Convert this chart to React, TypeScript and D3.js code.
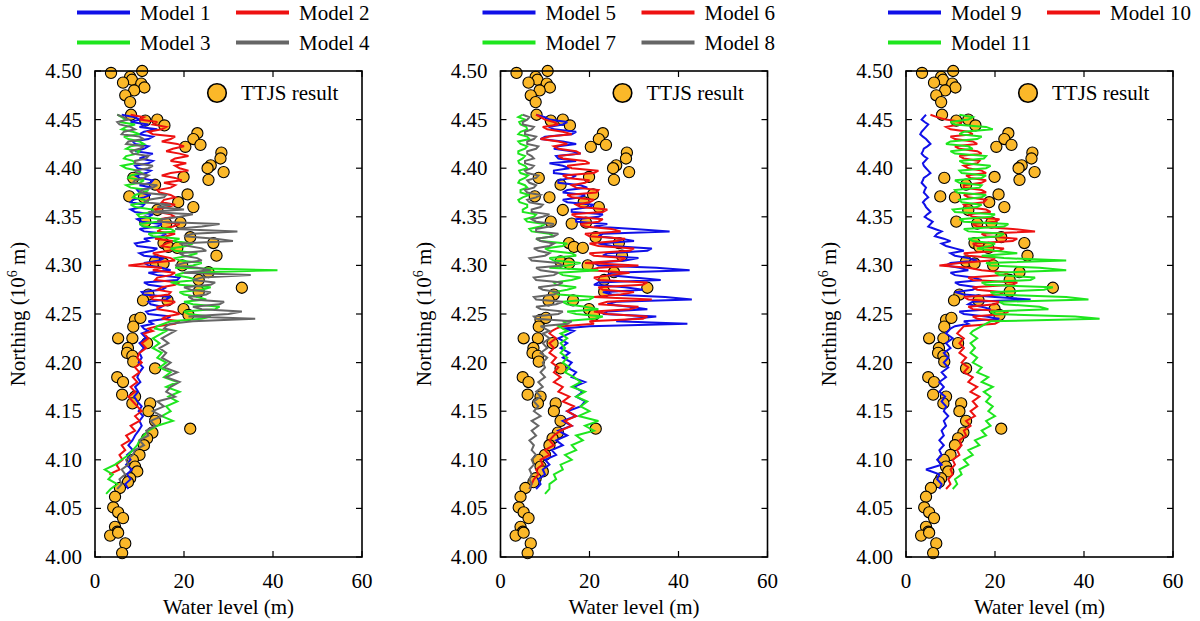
import React from "react";
import * as d3 from "d3";

// Northing grid (10^6 m): fine spacing in the noisy upper reach, coarser below
const NORTHING = [
  4.455, 4.4525, 4.45, 4.4475, 4.445, 4.4425, 4.44, 4.4375, 4.435, 4.4325,
  4.43, 4.4275, 4.425, 4.4225, 4.42, 4.4175, 4.415, 4.4125, 4.41, 4.4075,
  4.405, 4.4025, 4.4, 4.3975, 4.395, 4.3925, 4.39, 4.3875, 4.385, 4.3825,
  4.38, 4.3775, 4.375, 4.3725, 4.37, 4.3675, 4.365, 4.3625, 4.36, 4.3575,
  4.355, 4.3525, 4.35, 4.3475, 4.345, 4.3425, 4.34, 4.3375, 4.335, 4.3325,
  4.33, 4.3275, 4.325, 4.3225, 4.32, 4.3175, 4.315, 4.3125, 4.31, 4.3075,
  4.305, 4.3025, 4.3, 4.2975, 4.295, 4.2925, 4.29, 4.2875, 4.285, 4.2825,
  4.28, 4.2775, 4.275, 4.2725, 4.27, 4.2675, 4.265, 4.2625, 4.26, 4.2575,
  4.255, 4.2525, 4.25, 4.2475, 4.245, 4.2425, 4.24, 4.2375, 4.235, 4.2325,
  4.23,
  4.225, 4.22, 4.215, 4.21, 4.205, 4.2, 4.195, 4.19, 4.185, 4.18,
  4.175, 4.17, 4.165, 4.16, 4.155, 4.15, 4.145, 4.14, 4.135, 4.13,
  4.125, 4.12, 4.115, 4.11, 4.105, 4.1, 4.095, 4.09, 4.085, 4.08,
  4.075, 4.07, 4.065,
];

const MODEL_1 = [
  6, 9, 10, 8, 12, 10, 14, 11, 10, 13, 12, 8.5, 9, 12, 11, 9, 13, 11.5, 10, 13,
  12, 9, 9.5, 12.5, 11.5, 9, 10, 13, 12.5, 10, 13, 9.5, 10, 12.5, 11, 8.5, 8, 11, 10.5, 8,
  9, 13, 12, 9.5, 10.5, 15, 14, 10, 11, 16, 15, 11, 12, 9, 9.5, 14, 13, 10, 11, 15.5,
  14.5, 11, 12, 15, 17, 12, 14, 19, 18.5, 11, 12, 16, 15, 10.5, 11, 17, 16, 12, 12.5, 15,
  14, 11.5, 12, 17, 16, 12, 13, 10.5, 11, 12, 10.5,
  11.5, 10, 11, 10, 10.5, 9.8, 10.8, 10, 9.5, 10.2, 9, 9.7, 8.8, 9.5,
  10.5, 9.8, 10.8, 10, 10.5, 9.8, 9, 8.4, 7.5, 8.5, 7.2, 8, 7, 8.3, 7.2, 8, 6.8, 7.5, null,
];
const MODEL_2 = [
  8, 11, 10, 14, 13, 16, 15, 12, 13, 18, 17, 15, 18.5, 20, 17.5, 16, 19, 21, 18, 17,
  20.5, 18, 19, 21, 17, 15, 18, 19.5, 15.5, 18, 17, 14, 14.5, 17, 18, 15.5, 15, 18, 16.5, 13.5,
  14, 17, 18, 14.5, 15, 19, 17.5, 15, 14, 18, 16, 13.5, 17.5, 16, 15, 18, 16.5, 13, 14.5, 17,
  18, 12, 7.5, 15, 13, 18, 17, 14, 13.5, 19, 18, 15, 14, 17, 16.5, 12.5, 13, 18, 17, 14,
  14, 17.5, 19, 16, 15, 19, 18, 14, 12, 13, 11,
  12, 10.5, 11.5, 10, 9.5, 10.5, 9, 10, 8.5, 9.5, 8, 9, 7.5, 8.5,
  9.5, 10.5, 9, 10, 8, 9, 7, 7.8, 6, 6.8, 5.5, 6.2, 4.8, 5.5, 3.2, null, null, null, null,
];
const MODEL_3 = [
  5, 6, 7, 5.5, 9, 7, 6, 8.5, 10, 6.5, 7.5, 10, 11, 8, 7, 10, 9.5, 7, 6.5, 8.5,
  9, 6, 7, 9.5, 10.5, 8, 7.5, 11, 10, 7, 8, 12, 11, 9, 8.5, 11, 12, 8, 9, 13,
  13, 9.5, 10, 15, 14, 10, 11, 17, 18, 12, 13, 19, 17.5, 22, 20.5, 17, 18, 23, 21, 18,
  19, 24, 22, 18, 41, 20, 18, 21, 23, 17, 19, 26, 24, 19, 20, 23, 25, 20, 22, 28,
  27, 20, 21, 26, 24, 17, 15.5, 14, 13.5, 16, 15,
  13, 14.5, 13, 15, 14, 16, 14.5, 17, 15.5, 18.5, 16, 19, 16.5, 18.5,
  16, 17, 15, 17.5, 14, 12, 11, 10, 9.5, 8.5, 7.5, 6, 4.5, 2.2, 4, 3, 5, 3.5, 2.5,
];
const MODEL_4 = [
  5, 6.5, 7.5, 5, 5.5, 8, 9, 6.5, 6, 10, 11, 7.5, 7, 11, 10, 8, 8.5, 12, 11.5, 9,
  9, 13, 12, 9, 9.5, 12, 11, 9, 8.5, 14, 13, 10.5, 10, 16, 15.5, 12, 11, 17, 14, 20,
  12, 22, 19, 15, 14, 28, 24, 18, 32, 22, 20, 27, 31, 19, 21, 24, 25, 19, 20, 23,
  24, 20, 18, 23, 26, 20, 35, 24, 22, 27, 26, 20, 21.5, 26, 25, 21, 22, 29, 28, 22,
  24, 33, 30, 21, 36, 22, 17, 16, 15.5, 18, 17,
  15, 16.5, 14.5, 16, 15, 17, 15.5, 18.5, 16, 19, 17, 16, 18, 14,
  15.5, 13, 15, 12.5, 13.5, 11.5, 12, 10, 11, 9, 8.5, 7, 7.5, 6, 6.8, 5.5, 6, 5, null,
];
const MODEL_5 = [
  8, 10, 11, 15, 14, 11, 12, 17, 16, 10, 9, 14, 17, 13, 12, 16, 18, 12.5, 13, 17,
  11, 14, 15.5, 12, 12, 17, 16, 13, 13, 18, 19.5, 15, 14, 19, 18, 14, 15, 21, 20, 16,
  16, 23, 22, 17, 17, 24, 21, 30, 38, 23, 22, 27, 30, 22, 25, 34, 33, 24, 23, 31,
  28, 21, 22, 35, 42.5, 25, 24, 30, 36, 22, 21, 28, 32, 23, 25, 37, 43, 26, 24, 29,
  33, 24, 23, 35, 30, 26, 42, 20, 14, 16.5, 15.5,
  13, 15, 13.5, 15.5, 14, 16, 15, 17, 16, 19, 16.5, 18.5, 17, 19,
  18, 15, 17, 14, 16, 13, 15, 12.5, 14, 11.5, 12.5, 10, 11, 9.5, 10, 8.5, 9, 8, null,
];
const MODEL_6 = [
  8, 9, 10, 12, 13, 9.5, 10.5, 14, 16, 11, 9, 13, 15, 12, 13, 17, 18, 13, 14, 19,
  20, 15, 16, 22, 21, 14, 15, 20, 19, 16, 17, 22, 21.5, 15, 16, 21, 20, 17, 18, 24,
  23, 16, 17, 23, 22, 18, 19, 25, 27, 19, 20, 28, 26, 20, 22, 30, 29, 20, 21, 28,
  27, 19, 31, 22, 20, 29, 25, 21, 22, 33, 32, 22, 23, 30, 27, 21, 34, 24, 22, 31,
  29, 21, 24, 33, 32, 20, 21, 14, 12.5, 11.5, 11,
  12.5, 11, 12, 11, 12.5, 11.5, 13, 12, 13.5, 12, 14, 13, 15.5, 14,
  16.5, 15, 17, 14.5, 16, 13.5, 12, 11, 12, 10, 11, 9, 9.5, 8, 8.5, 7.5, 7, 6.5, null,
];
const MODEL_7 = [
  5, 4, 5.5, 4.2, 4.5, 5.8, 6, 4.5, 4, 6, 6.5, 4, 4.5, 6, 5.5, 4, 4, 5.5, 5, 4,
  4.2, 5.5, 6, 4.2, 4.5, 6.2, 5.5, 4.3, 4, 5.5, 6, 4.5, 4.5, 6.5, 5, 4, 4.3, 6, 6, 5,
  5, 8, 7.5, 5.5, 6, 10, 9, 6.5, 7, 11, 12, 8, 9, 15, 14, 10, 11, 16, 17, 11,
  12, 18, 15, 11, 22, 13, 14, 18, 16, 12, 12.5, 17, 15, 12, 13, 21, 20, 14, 15, 19,
  22, 15, 17, 23, 21, 14, 15, 13, 14, 15, 13.5,
  15, 13.5, 14.5, 13.5, 15, 14, 15.5, 14.5, 16.5, 18, 16, 19, 17, 19.5,
  18, 20, 17.5, 22, 19, 21, 17, 18.5, 16, 17, 14.5, 16, 13.5, 14, 12, 12.5, 11, 11, 10,
];
const MODEL_8 = [
  5, 6.5, 6, 5, 5, 7.5, 7, 5.5, 5.5, 8, 7.5, 6, 6, 8.5, 8, 6, 6, 7, 7.5, 5.5,
  5.5, 7.5, 7, 5.5, 6, 8.5, 8, 6, 6.5, 8, 7.5, 5.5, 6, 9, 8, 6, 6.5, 9.5, 9, 7,
  7, 11, 9.5, 7, 8, 12, 11, 8, 8, 13, 12, 8, 9, 12, 11, 7.5, 8.5, 11, 10, 6.5,
  7, 13, 14, 8, 9, 13, 12, 7.5, 8, 14, 13, 8.5, 9.5, 13, 12, 7.5, 8, 14, 12.5, 8,
  9, 14, 13, 7.5, 8, 16, 15, 9, 10, 11, 9.5,
  11, 9.5, 10.5, 9, 10.5, 9.5, 10, 9, 10, 8.5, 9.5, 8, 9, 7.5,
  8.5, 7.5, 9, 7, 8.5, 7, 8, 6.5, 7.5, 7, 8, 7, 7.5, 6.5, 7, 6.5, 7, 6.5, null,
];
const MODEL_9 = [
  4.5, 4, 3.5, 4.2, 5, 4.5, 4, 3.5, 3.2, 3.8, 4.5, 5, 5.5, 4.8, 4, 3.8, 3.5, 4, 4.8, 4.3,
  3.8, 4, 4.5, 5, 5.5, 4.8, 4, 3.8, 3.5, 4, 4.5, 4.2, 4, 4.5, 5, 4.3, 3.8, 4.2, 4.5, 5,
  5.5, 4.8, 4.2, 5, 6, 5.5, 5, 6.5, 8, 7, 6.5, 8.5, 10, 8, 9, 11, 13, 10, 11, 14,
  16, 10, 9, 12, 14, 10, 11, 15, 17, 11, 12, 16, 15, 11, 13, 20, 28, 15, 14, 17,
  19, 12, 13, 18, 21, 13, 14, 11, 10, 9.5, 9,
  10.5, 9, 10, 8.5, 9.5, 8.5, 9.5, 8, 9, 7.5, 8.5, 7.5, 8.8, 8,
  9, 8.5, 9.5, 8.5, 9, 8, 8.5, 7.5, 8.5, 7.5, 8, 7, 8, 4.5, 7.5, 7, 8, 7.5, null,
];
const MODEL_10 = [
  5.5, 7, 9, 12.5, 12, 9, 10, 14, 15, 10, 11, 15, 16, 11, 12, 16, 17, 12, 13, 16.5,
  16, 13, 14, 17, 18, 13.5, 14.5, 18, 17, 13, 13, 17, 18, 13, 14, 18, 17.5, 13, 13.5, 18,
  19, 14, 15, 21, 20, 15, 16, 24, 29, 17, 18, 25, 24, 15, 16, 22, 21, 13, 14, 20,
  19, 12, 7.5, 14, 17, 23, 22, 14, 15, 25, 24, 15, 16, 22, 21, 13, 14, 21, 20, 14,
  15, 23, 22, 15, 16, 21, 20, 13, 12.5, 12, 11.5,
  13, 12, 13, 12, 13.5, 12.5, 14, 13, 15, 14, 16, 14.5, 16.5, 15,
  16, 14.5, 15.5, 13.5, 14.5, 13, 13.5, 12, 12.5, 11.5, 12, 10.5, 11, 10, 10.5, 9.5, 10, 9, null,
];
const MODEL_11 = [
  12, 15, 14, 10, 11, 18, 19.5, 13, 12, 17, 16, 10, 9, 14, 15, 10, 11, 18, 17.5, 12,
  13, 19, 18, 12, 12.5, 18, 17, 11, 12, 17, 16.5, 11, 11.5, 18, 17, 12, 12.5, 17, 16, 10.5,
  11, 20, 19, 12, 13, 23, 22, 13, 14, 22, 21, 14, 15, 20, 19, 16, 20, 25, 17, 22,
  36, 18, 19, 30, 36, 20, 21, 29, 28, 17, 18, 33, 31, 19, 20, 36, 41, 21, 22, 30,
  32, 19, 20, 38, 43.5, 19, 18, 17, 16, 15, 14.5,
  16, 14.5, 15.5, 14.5, 16, 15, 17, 16, 18.5, 17, 19.5, 17.5, 19, 18,
  19.5, 18.5, 20, 18, 19, 17, 18, 15.5, 16.5, 14, 15, 13, 14, 12, 12.5, 11, 11.5, 10.5, null,
];

const TTJS_LEVEL = [
  3.6, 10.6, 7.9, 8.3, 6.3, 10.4, 11.1, 8.8, 6.8, 7.9,
  8.1, 11.3, 14.0, 15.6, 23.0, 22.1, 23.7, 20.3, 28.4, 28.2,
  26.0, 25.3, 28.9, 25.5, 19.9, 20.8, 22.1, 18.7, 8.6, 13.5,
  7.7, 11.0, 11.3, 19.2, 14.0, 16.0, 21.4, 26.6, 15.4, 16.5,
  18.5, 27.3, 13.5, 15.4, 19.6, 25.5, 23.3, 33.0, 23.3, 12.0,
  10.8, 16.3, 19.9, 21.0, 9.0, 10.2, 8.6, 5.2, 8.4, 11.7,
  7.4, 7.2, 8.4, 8.6, 13.5, 5.0, 6.3, 6.1, 9.0, 12.4,
  8.4, 12.0, 13.5, 12.9, 11.7, 21.4, 11.0, 10.0, 8.5, 9.0,
  9.5, 7.9, 7.4, 5.6, 4.5, 4.1, 5.2, 6.3, 4.5, 5.0,
  3.4, 5.2, 6.8, 6.1,
];
const TTJS_NORTHING = [
  4.498, 4.5, 4.494, 4.491, 4.488, 4.487, 4.483, 4.48, 4.475, 4.468,
  4.455, 4.449, 4.45, 4.444, 4.436, 4.43, 4.424, 4.422, 4.416, 4.41,
  4.403, 4.4, 4.396, 4.388, 4.391, 4.373, 4.36, 4.365, 4.39, 4.383,
  4.371, 4.37, 4.345, 4.344, 4.357, 4.343, 4.329, 4.323, 4.323, 4.319,
  4.318, 4.31, 4.304, 4.302, 4.3, 4.293, 4.285, 4.277, 4.273, 4.27,
  4.264, 4.264, 4.255, 4.249, 4.244, 4.246, 4.237, 4.225, 4.225, 4.22,
  4.215, 4.21, 4.207, 4.201, 4.194, 4.185, 4.18, 4.167, 4.165, 4.158,
  4.158, 4.15, 4.14, 4.128, 4.122, 4.132, 4.115, 4.105, 4.1, 4.093,
  4.088, 4.081, 4.077, 4.071, 4.062, 4.051, 4.046, 4.04, 4.031, 4.026,
  4.022, 4.025, 4.014, 4.004,
];

const X_TICKS = [0, 20, 40, 60];
const Y_TICKS = [4.0, 4.05, 4.1, 4.15, 4.2, 4.25, 4.3, 4.35, 4.4, 4.45, 4.5];

const BLUE = "#1010e8";
const RED = "#ee1111";
const GREEN = "#1ee61e";
const GRAY = "#666666";

const PANELS = [
  {
    left: 95,
    models: [
      { name: "Model 1", values: MODEL_1, color: BLUE },
      { name: "Model 2", values: MODEL_2, color: RED },
      { name: "Model 3", values: MODEL_3, color: GREEN },
      { name: "Model 4", values: MODEL_4, color: GRAY },
    ],
  },
  {
    left: 500.5,
    models: [
      { name: "Model 5", values: MODEL_5, color: BLUE },
      { name: "Model 6", values: MODEL_6, color: RED },
      { name: "Model 7", values: MODEL_7, color: GREEN },
      { name: "Model 8", values: MODEL_8, color: GRAY },
    ],
  },
  {
    left: 906,
    models: [
      { name: "Model 9", values: MODEL_9, color: BLUE },
      { name: "Model 10", values: MODEL_10, color: RED },
      { name: "Model 11", values: MODEL_11, color: GREEN },
    ],
  },
];

const W = 1200;
const H = 621;
const TOP = 71;
const BOTTOM = 557;
const PW = 267;
const FONT = "Liberation Serif, DejaVu Serif, Times New Roman, Times, serif";
const DOT_FILL = "#FBB829";
const TXT = { fontFamily: FONT, fontSize: 21 };

type Model = { name: string; values: (number | null)[]; color: string };

function Panel({ left, models }: { left: number; models: Model[] }) {
  const x = d3.scaleLinear().domain([0, 60]).range([left, left + PW]);
  const y = d3.scaleLinear().domain([4.0, 4.5]).range([BOTTOM, TOP]);

  const gen = d3
    .line<[number | null, number]>()
    .defined((d) => d[0] !== null)
    .x((d) => x(d[0] as number))
    .y((d) => y(d[1]));
  const makePath = (values: (number | null)[]) =>
    gen(values.map((v, i) => [v, NORTHING[i]] as [number | null, number])) || "";

  const tickLen = 6;
  return (
    <g>
      {models.map((m, i) => {
        const col = i % 2;
        const row = Math.floor(i / 2);
        const lx = left - 18 + col * 159;
        const ly = 12.5 + row * 30;
        return (
          <g key={m.name}>
            <line x1={lx} x2={lx + 53} y1={ly} y2={ly} stroke={m.color} strokeWidth={4} />
            <text x={lx + 63} y={ly + 7} style={TXT}>
              {m.name}
            </text>
          </g>
        );
      })}

      {TTJS_LEVEL.map((v, i) => (
        <circle key={i} cx={x(v)} cy={y(TTJS_NORTHING[i])} r={5.6} fill={DOT_FILL} stroke="#000" strokeWidth={1.1} />
      ))}

      {models.map((m) => (
        <path
          key={m.name}
          d={makePath(m.values)}
          fill="none"
          stroke={m.color}
          strokeWidth={2}
          strokeLinejoin="miter"
          strokeMiterlimit={3}
        />
      ))}

      <rect x={left} y={TOP} width={PW} height={BOTTOM - TOP} fill="none" stroke="#000" strokeWidth={1.6} />

      {X_TICKS.map((t) => (
        <g key={"x" + t}>
          <line x1={x(t)} x2={x(t)} y1={BOTTOM} y2={BOTTOM - tickLen} stroke="#000" strokeWidth={1.2} />
          <line x1={x(t)} x2={x(t)} y1={TOP} y2={TOP + tickLen} stroke="#000" strokeWidth={1.2} />
          <text x={x(t)} y={588} style={TXT} textAnchor="middle">
            {t}
          </text>
        </g>
      ))}
      {Y_TICKS.map((t) => (
        <g key={"y" + t}>
          <line x1={left} x2={left + tickLen} y1={y(t)} y2={y(t)} stroke="#000" strokeWidth={1.2} />
          <line x1={left + PW} x2={left + PW - tickLen} y1={y(t)} y2={y(t)} stroke="#000" strokeWidth={1.2} />
          <text x={left - 13} y={y(t) + 7} style={TXT} textAnchor="end">
            {t.toFixed(2)}
          </text>
        </g>
      ))}

      <circle cx={left + 122} cy={93} r={9.3} fill={DOT_FILL} stroke="#000" strokeWidth={1.6} />
      <text x={left + 146} y={100} style={TXT}>
        TTJS result
      </text>

      <text x={left + PW / 2} y={614} style={TXT} textAnchor="middle">
        Water level (m)
      </text>
      <text transform={`translate(${left - 70},${(TOP + BOTTOM) / 2}) rotate(-90)`} style={TXT} textAnchor="middle">
        Northing (10
        <tspan style={{ fontSize: 14 }} dy={-8}>
          6
        </tspan>
        <tspan dy={8}> m)</tspan>
      </text>
    </g>
  );
}

export default function App() {
  return (
    <svg
      width={W}
      height={H}
      viewBox={`0 0 ${W} ${H}`}
      style={{ position: "absolute", left: 0, top: 0, background: "#fff", fontFamily: FONT }}
    >
      <rect x={0} y={0} width={W} height={H} fill="#fff" />
      {PANELS.map((p, i) => (
        <Panel key={i} left={p.left} models={p.models} />
      ))}
    </svg>
  );
}
